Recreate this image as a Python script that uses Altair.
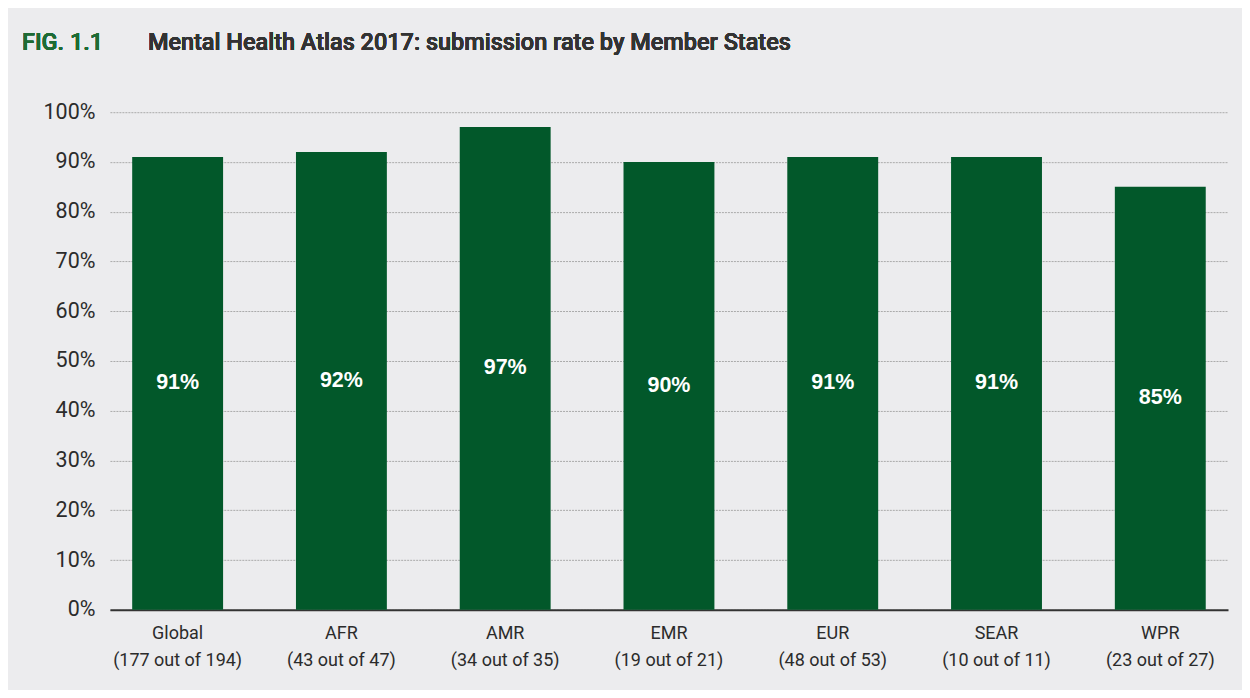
import altair as alt
import pandas as pd

regions = ["Global", "AFR", "AMR", "EMR", "EUR", "SEAR", "WPR"]
submitted = [177, 43, 34, 19, 48, 10, 23]
member_states = [194, 47, 35, 21, 53, 11, 27]
rates = [91, 92, 97, 90, 91, 91, 85]
y_ticks = [0, 10, 20, 30, 40, 50, 60, 70, 80, 90, 100]

df = pd.DataFrame({
    "region": regions,
    "label": [f"{r}|({s} out of {m})" for r, s, m in zip(regions, submitted, member_states)],
    "rate": rates,
})

BG = "#ECECEE"
GREEN = "#02582A"
AXIS_FONT = "Roboto"

x_enc = alt.X(
    "label:N",
    sort=None,
    scale=alt.Scale(paddingInner=0.445, paddingOuter=0.136),
    axis=alt.Axis(
        title=None,
        labelExpr="split(datum.label, '|')",
        labelFont=AXIS_FONT,
        labelFontSize=18,
        labelColor="#2b2b2b",
        labelLineHeight=27,
        labelPadding=15,
        labelAngle=0,
        ticks=False,
        domain=True,
        domainColor="#333333",
        domainWidth=2,
        grid=False,
    ),
)

y_enc = alt.Y(
    "rate:Q",
    scale=alt.Scale(domain=[0, 100], nice=False),
    axis=alt.Axis(
        title=None,
        values=y_ticks,
        labelExpr="datum.value + '%'",
        labelFont=AXIS_FONT,
        labelFontSize=21.5,
        labelColor="#2b2b2b",
        labelPadding=15,
        ticks=False,
        domain=False,
        grid=True,
        gridColor="#AAAAAA",
        gridDash=[2, 1],
        gridWidth=1,
    ),
)

bars = alt.Chart(df).mark_bar(color=GREEN).encode(x=x_enc, y=y_enc)

labels = alt.Chart(df).transform_calculate(
    mid="datum.rate / 2", txt="datum.rate + '%'"
).mark_text(
    color="white", font="Liberation Sans", fontWeight="bold", fontSize=21.5, baseline="middle"
).encode(
    x=alt.X("label:N", sort=None),
    y=alt.Y("mid:Q"),
    text="txt:N",
)

fig = alt.Chart(df).mark_text(
    text="FIG. 1.1", color="#1E6B35", font="Roboto", fontWeight=500,
    fontSize=23.5, align="left", baseline="middle",
).encode(x=alt.value(-88), y=alt.value(-69))

title = alt.Chart(df).mark_text(
    text="Mental Health Atlas 2017: submission rate by Member States", color="#333333",
    font="Roboto", fontWeight=500, fontSize=23.5, align="left", baseline="middle",
).encode(x=alt.value(38), y=alt.value(-69))

chart = alt.layer(bars, labels, fig, title).properties(
    width=1119,
    height=498,
    background=BG,
    padding={"left": 102, "top": 104, "right": 14, "bottom": 80},
    autosize=alt.AutoSizeParams(type="none"),
).configure_view(stroke=None)

chart.save("out.html", embed_options={"renderer": "svg", "actions": False})
